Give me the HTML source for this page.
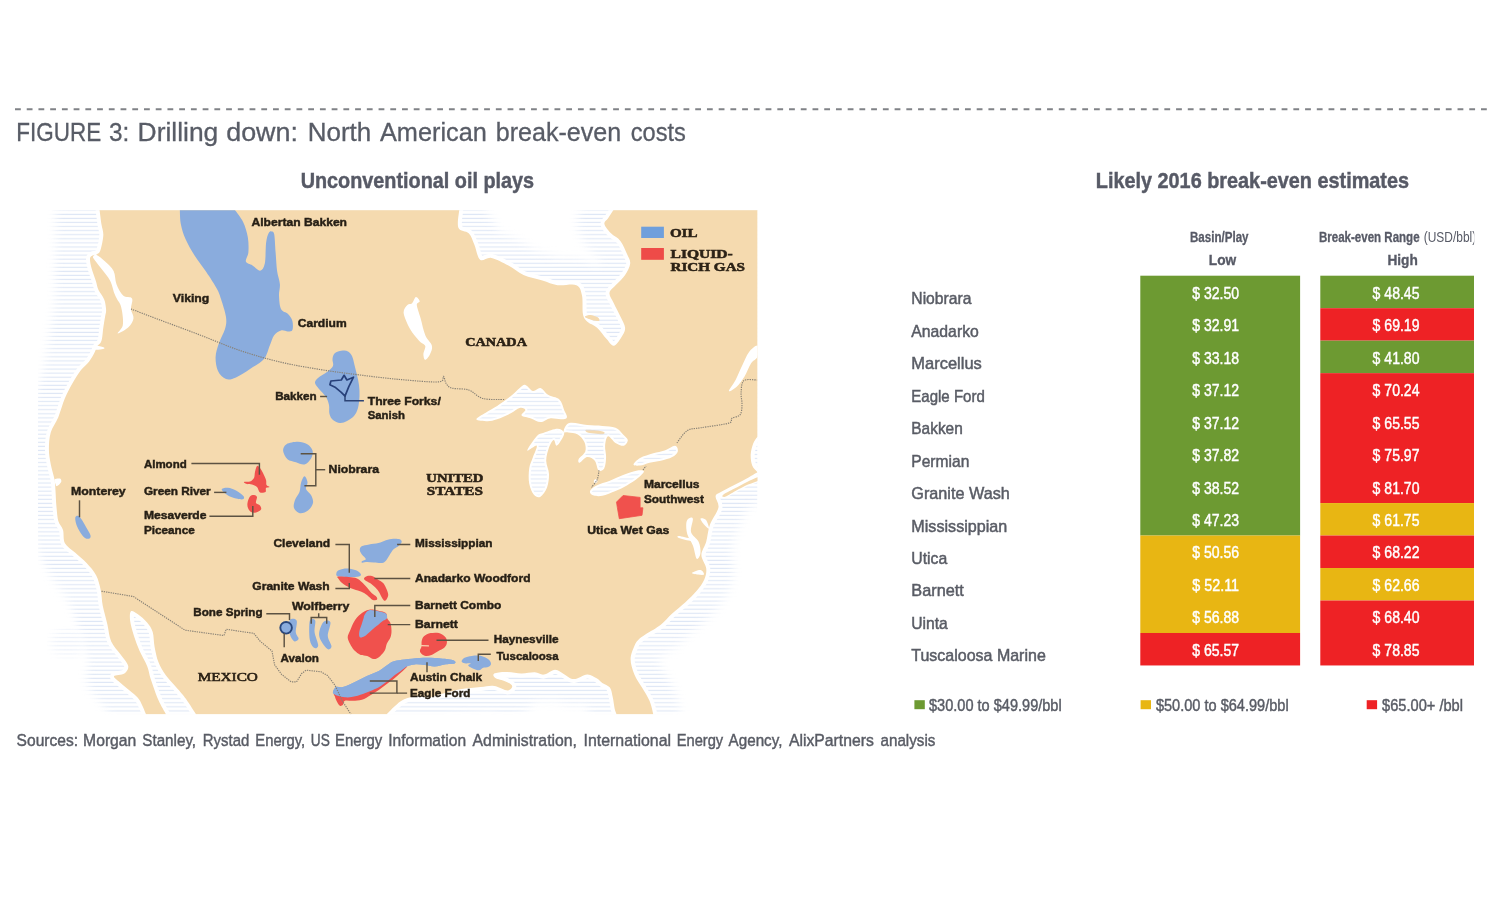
<!DOCTYPE html>
<html lang="en"><head><meta charset="utf-8"><title>FIGURE 3: Drilling down: North American break-even costs</title>
<style>html,body{margin:0;padding:0;background:#fff}body{width:1504px;height:900px;overflow:hidden}svg{display:block}text{font-family:"Liberation Sans",sans-serif}.lb{font-weight:bold;font-size:11.4px;fill:#261f15;stroke:#261f15;stroke-width:.45}.ct{font-family:"Liberation Serif",serif;font-weight:bold;fill:#2c2216;stroke:#2c2216;stroke-width:.55}.ld{fill:none;stroke:#5c5242;stroke-width:1.45}.bd{fill:none;stroke:#888175;stroke-width:1.15;stroke-dasharray:1.3 1.0}.rl{font-size:17px;fill:#595c65;stroke:#595c65;stroke-width:.5}.v{font-size:17.4px;fill:#fff;stroke:#fff;stroke-width:.45}.tt{font-weight:bold;fill:#575a66;stroke:#575a66;stroke-width:.45}</style></head><body>
<svg width="1504" height="900" viewBox="0 0 1504 900">
<defs>
<pattern id="hatch" width="8" height="4.07" patternUnits="userSpaceOnUse" patternTransform="translate(0,0.8)"><rect x="0" y="1.4" width="8" height="1.1" fill="#ccd9f0"/></pattern>
<filter id="bl" x="-10%" y="-10%" width="120%" height="120%"><feGaussianBlur stdDeviation="4"/></filter>
<filter id="soft" x="-5%" y="-5%" width="110%" height="110%"><feGaussianBlur stdDeviation="0.5"/></filter>
<clipPath id="mapclip"><rect x="38.0" y="210.3" width="719.5" height="503.90000000000003"/></clipPath>
<mask id="coastmask" maskUnits="userSpaceOnUse" x="0" y="180" width="800" height="560"><rect x="0" y="180" width="800" height="560" fill="#000"/><path d="M99.5,209.5 L459.3,209.5 C459.1,212.5 456.8,223.7 458.4,227.7 C460.0,231.7 466.0,230.5 468.7,233.3 C471.4,236.1 472.5,240.3 474.4,244.7 C476.3,249.1 477.3,257.6 480.1,259.8 C482.9,262.0 486.7,257.0 491.4,257.9 C496.1,258.8 503.0,262.6 508.4,265.4 C513.8,268.2 517.8,272.4 523.5,274.9 C529.2,277.4 536.7,278.8 542.4,280.5 C548.1,282.2 551.8,284.4 557.5,285.2 C563.2,286.0 572.3,283.5 576.4,285.2 C580.5,286.9 580.9,290.7 582.0,295.6 C583.1,300.5 582.0,310.1 583.0,314.5 C584.0,318.9 585.4,319.8 587.7,322.0 C590.1,324.2 594.0,324.9 597.1,327.7 C600.2,330.5 603.8,336.0 606.6,339.0 C609.4,342.0 611.3,346.0 613.8,345.7 C616.3,345.4 619.5,340.2 621.4,337.2 C623.3,334.2 625.3,331.2 625.1,327.7 C624.9,324.2 622.3,320.5 620.4,316.4 C618.5,312.3 615.6,307.1 613.8,303.2 C612.0,299.3 609.0,295.9 609.5,292.8 C610.0,289.7 614.0,287.3 616.6,284.3 C619.2,281.3 622.8,278.4 625.1,274.9 C627.4,271.4 629.9,267.0 630.2,263.5 C630.5,260.0 628.6,257.9 627.0,254.1 C625.4,250.3 623.1,244.4 620.4,240.9 C617.7,237.4 613.7,236.1 611.0,233.3 C608.3,230.5 604.9,226.4 604.4,223.9 C603.9,221.4 606.5,220.6 608.1,218.2 C609.7,215.8 612.8,210.9 613.8,209.5 L757.5,209.5 L757.5,436.7 C756.8,437.8 754.4,440.4 753.3,443.3 C752.2,446.2 750.9,450.7 750.7,454.4 C750.5,458.1 751.1,462.6 752.2,465.6 C753.3,468.6 756.6,471.1 757.5,472.2 C755.7,473.2 750.7,476.3 746.7,478.5 C742.7,480.7 737.8,483.3 733.3,485.6 C728.8,487.9 723.0,490.7 720.0,492.5 C717.0,494.3 715.9,493.9 715.6,496.5 C715.3,499.1 719.4,503.1 718.4,507.8 C717.4,512.5 711.9,519.1 709.9,524.8 C707.9,530.5 707.6,536.8 706.2,541.8 C704.8,546.8 701.4,550.6 701.4,555.0 C701.4,559.4 705.7,564.1 706.2,568.2 C706.7,572.3 705.9,575.7 704.3,579.5 C702.7,583.3 699.9,587.0 696.7,590.8 C693.6,594.6 689.5,598.4 685.4,602.2 C681.3,606.0 676.3,609.7 672.2,613.5 C668.1,617.3 665.2,621.3 660.8,624.8 C656.4,628.3 649.5,631.8 645.7,634.3 C641.9,636.8 640.1,638.0 638.2,640.0 C636.3,642.0 635.7,642.9 634.4,646.1 C633.1,649.3 630.6,654.6 630.6,659.3 C630.6,664.0 632.5,669.7 634.4,674.4 C636.3,679.1 639.5,683.2 642.0,687.6 C644.5,692.0 647.6,696.4 649.5,700.8 C651.4,705.2 652.7,712.0 653.3,714.2 L616.5,714.2 C616.2,713.2 615.2,711.2 614.6,708.4 C614.0,705.5 613.5,700.6 612.7,697.1 C611.9,693.6 611.6,690.0 609.9,687.6 C608.2,685.2 604.5,684.5 602.3,682.9 C600.1,681.3 599.1,679.6 596.6,678.2 C594.1,676.8 591.0,674.2 587.2,674.4 C583.4,674.5 577.8,679.1 574.0,679.1 C570.2,679.1 567.6,676.0 564.5,674.4 C561.4,672.8 558.5,669.7 555.1,669.7 C551.7,669.7 547.3,674.2 543.9,674.6 C540.5,675.0 538.6,672.5 534.8,672.3 C531.0,672.1 526.2,673.6 521.3,673.5 C516.4,673.4 510.0,671.9 505.5,671.9 C501.0,671.9 495.9,672.5 494.2,673.5 C492.5,674.5 493.4,676.7 495.3,678.0 C497.2,679.3 502.7,680.1 505.5,681.4 C508.3,682.7 511.8,684.4 512.2,685.9 C512.6,687.4 510.7,690.4 507.7,690.4 C504.7,690.4 498.7,686.5 494.2,685.9 C489.7,685.3 486.3,686.4 480.6,687.0 C474.9,687.6 466.6,688.2 460.2,689.3 C453.8,690.4 447.5,692.5 442.2,693.8 C436.9,695.1 432.8,696.8 428.6,697.2 C424.5,697.6 421.5,695.7 417.3,696.1 C413.1,696.5 407.5,697.8 403.7,699.5 C399.9,701.2 397.5,703.8 394.7,706.3 C391.9,708.8 388.1,712.9 386.8,714.2 L196.0,714.2 C194.4,711.8 189.5,704.0 186.7,700.0 C183.9,696.0 182.6,694.6 179.2,690.5 C175.8,686.4 169.5,680.1 166.0,675.4 C162.5,670.6 160.3,666.7 158.4,662.0 C156.5,657.3 155.6,652.0 154.6,647.0 C153.6,642.0 153.9,636.1 152.7,632.0 C151.4,627.9 149.6,625.5 147.1,622.5 C144.6,619.5 140.3,615.9 137.6,614.0 C134.9,612.1 132.2,610.1 131.0,611.2 C129.8,612.3 129.6,616.5 130.1,620.6 C130.6,624.7 132.3,630.7 133.9,635.7 C135.5,640.7 137.3,645.8 139.5,650.8 C141.7,655.8 145.2,661.3 147.1,666.0 C149.0,670.7 148.9,673.5 150.8,679.2 C152.7,684.9 155.9,694.2 158.4,700.0 C160.9,705.8 164.7,711.8 166.0,714.2 L146.0,714.2 C144.9,711.8 141.8,703.6 139.5,700.0 C137.2,696.4 135.2,695.2 132.0,692.4 C128.8,689.6 123.6,685.7 120.6,683.0 C117.6,680.3 113.4,677.9 114.0,676.3 C114.6,674.7 122.0,675.2 124.4,673.5 C126.8,671.8 128.8,669.1 128.2,666.0 C127.6,662.9 123.4,658.7 120.6,654.6 C117.8,650.5 113.4,646.4 111.2,641.4 C109.0,636.4 108.8,630.4 107.4,624.4 C106.0,618.4 103.8,611.2 102.7,605.5 C101.6,599.8 101.9,595.4 100.8,590.4 C99.7,585.4 98.5,579.9 96.1,575.3 C93.7,570.7 90.1,566.8 86.6,563.0 C83.1,559.2 78.9,556.0 75.3,552.7 C71.7,549.4 67.0,547.0 64.9,543.2 C62.9,539.4 64.1,533.7 63.0,530.0 C61.9,526.3 59.4,525.0 58.3,521.0 C57.2,517.0 56.9,511.0 56.4,506.0 C55.9,501.0 55.8,495.2 55.5,490.8 C55.2,486.4 55.3,483.9 54.5,479.5 C53.7,475.1 51.7,469.4 50.8,464.4 C49.9,459.4 48.9,454.6 48.9,449.3 C48.9,444.0 49.2,437.7 50.8,432.3 C52.4,426.9 55.9,422.9 58.3,417.2 C60.6,411.5 62.5,404.0 64.9,398.3 C67.3,392.6 69.8,387.9 72.5,383.2 C75.2,378.5 78.2,373.6 81.0,370.0 C83.8,366.4 86.7,364.7 89.0,361.7 C91.3,358.7 93.5,354.5 94.8,352.0 C96.1,349.5 95.9,348.3 97.0,346.5 C98.1,344.7 100.4,344.1 101.4,341.0 C102.5,337.9 102.7,331.8 103.3,327.7 C103.9,323.6 104.6,319.4 105.1,316.4 C105.6,313.4 106.2,312.6 106.1,309.8 C105.9,307.0 105.5,302.7 104.2,299.4 C102.9,296.1 99.9,293.1 98.5,290.0 C97.1,286.9 96.9,284.2 95.7,280.5 C94.5,276.8 92.5,271.7 91.5,268.0 C90.5,264.3 89.8,260.6 90.0,258.5 C90.2,256.4 91.4,256.2 92.5,255.5 C93.6,254.8 95.3,255.4 96.6,254.5 C97.9,253.6 99.3,253.5 100.4,250.3 C101.5,247.1 103.1,239.6 103.3,235.2 C103.5,230.8 102.0,228.2 101.4,223.9 C100.8,219.6 99.8,211.9 99.5,209.5Z" fill="none" stroke="#a8a8a8" stroke-width="54" stroke-linejoin="round" filter="url(#bl)"/><ellipse cx="68" cy="643" rx="17" ry="14" fill="#777" filter="url(#bl)"/><path d="M56,205 L55,300 L49,340 L42,380 L38,430 L39,480 L42,540 L50,575 L68,600 L89,640 L95,680 L112,720 L150,720 L150,205Z" fill="#a8a8a8" filter="url(#bl)"/></mask>
</defs>
<rect width="1504" height="900" fill="#fff"/>
<line x1="15" y1="109.2" x2="1487" y2="109.2" stroke="#808287" stroke-width="1.9" stroke-dasharray="5.8 5.928"/>
<text y="141.2" font-size="25px" fill="#585c66" stroke="#585c66" stroke-width=".3"><tspan x="16.3" textLength="84.9" lengthAdjust="spacingAndGlyphs">FIGURE</tspan> <tspan x="108.9" textLength="20.3" lengthAdjust="spacingAndGlyphs">3:</tspan> <tspan x="137.6" textLength="80.7" lengthAdjust="spacingAndGlyphs">Drilling</tspan> <tspan x="226.2" textLength="71.8" lengthAdjust="spacingAndGlyphs">down:</tspan> <tspan x="307.7" textLength="63.5" lengthAdjust="spacingAndGlyphs">North</tspan> <tspan x="380" textLength="106.8" lengthAdjust="spacingAndGlyphs">American</tspan> <tspan x="495.8" textLength="125.4" lengthAdjust="spacingAndGlyphs">break-even</tspan> <tspan x="630.8" textLength="55.1" lengthAdjust="spacingAndGlyphs">costs</tspan> </text>
<text x="300.7" y="187.8" font-size="22px" class="tt" textLength="233.4" lengthAdjust="spacingAndGlyphs">Unconventional oil plays</text>
<text x="1095.8" y="187.8" font-size="22px" class="tt" textLength="313.2" lengthAdjust="spacingAndGlyphs">Likely 2016 break-even estimates</text>
<g clip-path="url(#mapclip)">
<rect x="38.0" y="210.3" width="719.5" height="503.90000000000003" fill="url(#hatch)" mask="url(#coastmask)"/>
<path d="M99.5,209.5 L459.3,209.5 C459.1,212.5 456.8,223.7 458.4,227.7 C460.0,231.7 466.0,230.5 468.7,233.3 C471.4,236.1 472.5,240.3 474.4,244.7 C476.3,249.1 477.3,257.6 480.1,259.8 C482.9,262.0 486.7,257.0 491.4,257.9 C496.1,258.8 503.0,262.6 508.4,265.4 C513.8,268.2 517.8,272.4 523.5,274.9 C529.2,277.4 536.7,278.8 542.4,280.5 C548.1,282.2 551.8,284.4 557.5,285.2 C563.2,286.0 572.3,283.5 576.4,285.2 C580.5,286.9 580.9,290.7 582.0,295.6 C583.1,300.5 582.0,310.1 583.0,314.5 C584.0,318.9 585.4,319.8 587.7,322.0 C590.1,324.2 594.0,324.9 597.1,327.7 C600.2,330.5 603.8,336.0 606.6,339.0 C609.4,342.0 611.3,346.0 613.8,345.7 C616.3,345.4 619.5,340.2 621.4,337.2 C623.3,334.2 625.3,331.2 625.1,327.7 C624.9,324.2 622.3,320.5 620.4,316.4 C618.5,312.3 615.6,307.1 613.8,303.2 C612.0,299.3 609.0,295.9 609.5,292.8 C610.0,289.7 614.0,287.3 616.6,284.3 C619.2,281.3 622.8,278.4 625.1,274.9 C627.4,271.4 629.9,267.0 630.2,263.5 C630.5,260.0 628.6,257.9 627.0,254.1 C625.4,250.3 623.1,244.4 620.4,240.9 C617.7,237.4 613.7,236.1 611.0,233.3 C608.3,230.5 604.9,226.4 604.4,223.9 C603.9,221.4 606.5,220.6 608.1,218.2 C609.7,215.8 612.8,210.9 613.8,209.5 L757.5,209.5 L757.5,436.7 C756.8,437.8 754.4,440.4 753.3,443.3 C752.2,446.2 750.9,450.7 750.7,454.4 C750.5,458.1 751.1,462.6 752.2,465.6 C753.3,468.6 756.6,471.1 757.5,472.2 C755.7,473.2 750.7,476.3 746.7,478.5 C742.7,480.7 737.8,483.3 733.3,485.6 C728.8,487.9 723.0,490.7 720.0,492.5 C717.0,494.3 715.9,493.9 715.6,496.5 C715.3,499.1 719.4,503.1 718.4,507.8 C717.4,512.5 711.9,519.1 709.9,524.8 C707.9,530.5 707.6,536.8 706.2,541.8 C704.8,546.8 701.4,550.6 701.4,555.0 C701.4,559.4 705.7,564.1 706.2,568.2 C706.7,572.3 705.9,575.7 704.3,579.5 C702.7,583.3 699.9,587.0 696.7,590.8 C693.6,594.6 689.5,598.4 685.4,602.2 C681.3,606.0 676.3,609.7 672.2,613.5 C668.1,617.3 665.2,621.3 660.8,624.8 C656.4,628.3 649.5,631.8 645.7,634.3 C641.9,636.8 640.1,638.0 638.2,640.0 C636.3,642.0 635.7,642.9 634.4,646.1 C633.1,649.3 630.6,654.6 630.6,659.3 C630.6,664.0 632.5,669.7 634.4,674.4 C636.3,679.1 639.5,683.2 642.0,687.6 C644.5,692.0 647.6,696.4 649.5,700.8 C651.4,705.2 652.7,712.0 653.3,714.2 L616.5,714.2 C616.2,713.2 615.2,711.2 614.6,708.4 C614.0,705.5 613.5,700.6 612.7,697.1 C611.9,693.6 611.6,690.0 609.9,687.6 C608.2,685.2 604.5,684.5 602.3,682.9 C600.1,681.3 599.1,679.6 596.6,678.2 C594.1,676.8 591.0,674.2 587.2,674.4 C583.4,674.5 577.8,679.1 574.0,679.1 C570.2,679.1 567.6,676.0 564.5,674.4 C561.4,672.8 558.5,669.7 555.1,669.7 C551.7,669.7 547.3,674.2 543.9,674.6 C540.5,675.0 538.6,672.5 534.8,672.3 C531.0,672.1 526.2,673.6 521.3,673.5 C516.4,673.4 510.0,671.9 505.5,671.9 C501.0,671.9 495.9,672.5 494.2,673.5 C492.5,674.5 493.4,676.7 495.3,678.0 C497.2,679.3 502.7,680.1 505.5,681.4 C508.3,682.7 511.8,684.4 512.2,685.9 C512.6,687.4 510.7,690.4 507.7,690.4 C504.7,690.4 498.7,686.5 494.2,685.9 C489.7,685.3 486.3,686.4 480.6,687.0 C474.9,687.6 466.6,688.2 460.2,689.3 C453.8,690.4 447.5,692.5 442.2,693.8 C436.9,695.1 432.8,696.8 428.6,697.2 C424.5,697.6 421.5,695.7 417.3,696.1 C413.1,696.5 407.5,697.8 403.7,699.5 C399.9,701.2 397.5,703.8 394.7,706.3 C391.9,708.8 388.1,712.9 386.8,714.2 L196.0,714.2 C194.4,711.8 189.5,704.0 186.7,700.0 C183.9,696.0 182.6,694.6 179.2,690.5 C175.8,686.4 169.5,680.1 166.0,675.4 C162.5,670.6 160.3,666.7 158.4,662.0 C156.5,657.3 155.6,652.0 154.6,647.0 C153.6,642.0 153.9,636.1 152.7,632.0 C151.4,627.9 149.6,625.5 147.1,622.5 C144.6,619.5 140.3,615.9 137.6,614.0 C134.9,612.1 132.2,610.1 131.0,611.2 C129.8,612.3 129.6,616.5 130.1,620.6 C130.6,624.7 132.3,630.7 133.9,635.7 C135.5,640.7 137.3,645.8 139.5,650.8 C141.7,655.8 145.2,661.3 147.1,666.0 C149.0,670.7 148.9,673.5 150.8,679.2 C152.7,684.9 155.9,694.2 158.4,700.0 C160.9,705.8 164.7,711.8 166.0,714.2 L146.0,714.2 C144.9,711.8 141.8,703.6 139.5,700.0 C137.2,696.4 135.2,695.2 132.0,692.4 C128.8,689.6 123.6,685.7 120.6,683.0 C117.6,680.3 113.4,677.9 114.0,676.3 C114.6,674.7 122.0,675.2 124.4,673.5 C126.8,671.8 128.8,669.1 128.2,666.0 C127.6,662.9 123.4,658.7 120.6,654.6 C117.8,650.5 113.4,646.4 111.2,641.4 C109.0,636.4 108.8,630.4 107.4,624.4 C106.0,618.4 103.8,611.2 102.7,605.5 C101.6,599.8 101.9,595.4 100.8,590.4 C99.7,585.4 98.5,579.9 96.1,575.3 C93.7,570.7 90.1,566.8 86.6,563.0 C83.1,559.2 78.9,556.0 75.3,552.7 C71.7,549.4 67.0,547.0 64.9,543.2 C62.9,539.4 64.1,533.7 63.0,530.0 C61.9,526.3 59.4,525.0 58.3,521.0 C57.2,517.0 56.9,511.0 56.4,506.0 C55.9,501.0 55.8,495.2 55.5,490.8 C55.2,486.4 55.3,483.9 54.5,479.5 C53.7,475.1 51.7,469.4 50.8,464.4 C49.9,459.4 48.9,454.6 48.9,449.3 C48.9,444.0 49.2,437.7 50.8,432.3 C52.4,426.9 55.9,422.9 58.3,417.2 C60.6,411.5 62.5,404.0 64.9,398.3 C67.3,392.6 69.8,387.9 72.5,383.2 C75.2,378.5 78.2,373.6 81.0,370.0 C83.8,366.4 86.7,364.7 89.0,361.7 C91.3,358.7 93.5,354.5 94.8,352.0 C96.1,349.5 95.9,348.3 97.0,346.5 C98.1,344.7 100.4,344.1 101.4,341.0 C102.5,337.9 102.7,331.8 103.3,327.7 C103.9,323.6 104.6,319.4 105.1,316.4 C105.6,313.4 106.2,312.6 106.1,309.8 C105.9,307.0 105.5,302.7 104.2,299.4 C102.9,296.1 99.9,293.1 98.5,290.0 C97.1,286.9 96.9,284.2 95.7,280.5 C94.5,276.8 92.5,271.7 91.5,268.0 C90.5,264.3 89.8,260.6 90.0,258.5 C90.2,256.4 91.4,256.2 92.5,255.5 C93.6,254.8 95.3,255.4 96.6,254.5 C97.9,253.6 99.3,253.5 100.4,250.3 C101.5,247.1 103.1,239.6 103.3,235.2 C103.5,230.8 102.0,228.2 101.4,223.9 C100.8,219.6 99.8,211.9 99.5,209.5Z" fill="#f5daaf" stroke="#fff" stroke-width="8" stroke-linejoin="round"/>
<path d="M99.5,209.5 L459.3,209.5 C459.1,212.5 456.8,223.7 458.4,227.7 C460.0,231.7 466.0,230.5 468.7,233.3 C471.4,236.1 472.5,240.3 474.4,244.7 C476.3,249.1 477.3,257.6 480.1,259.8 C482.9,262.0 486.7,257.0 491.4,257.9 C496.1,258.8 503.0,262.6 508.4,265.4 C513.8,268.2 517.8,272.4 523.5,274.9 C529.2,277.4 536.7,278.8 542.4,280.5 C548.1,282.2 551.8,284.4 557.5,285.2 C563.2,286.0 572.3,283.5 576.4,285.2 C580.5,286.9 580.9,290.7 582.0,295.6 C583.1,300.5 582.0,310.1 583.0,314.5 C584.0,318.9 585.4,319.8 587.7,322.0 C590.1,324.2 594.0,324.9 597.1,327.7 C600.2,330.5 603.8,336.0 606.6,339.0 C609.4,342.0 611.3,346.0 613.8,345.7 C616.3,345.4 619.5,340.2 621.4,337.2 C623.3,334.2 625.3,331.2 625.1,327.7 C624.9,324.2 622.3,320.5 620.4,316.4 C618.5,312.3 615.6,307.1 613.8,303.2 C612.0,299.3 609.0,295.9 609.5,292.8 C610.0,289.7 614.0,287.3 616.6,284.3 C619.2,281.3 622.8,278.4 625.1,274.9 C627.4,271.4 629.9,267.0 630.2,263.5 C630.5,260.0 628.6,257.9 627.0,254.1 C625.4,250.3 623.1,244.4 620.4,240.9 C617.7,237.4 613.7,236.1 611.0,233.3 C608.3,230.5 604.9,226.4 604.4,223.9 C603.9,221.4 606.5,220.6 608.1,218.2 C609.7,215.8 612.8,210.9 613.8,209.5 L757.5,209.5 L757.5,436.7 C756.8,437.8 754.4,440.4 753.3,443.3 C752.2,446.2 750.9,450.7 750.7,454.4 C750.5,458.1 751.1,462.6 752.2,465.6 C753.3,468.6 756.6,471.1 757.5,472.2 C755.7,473.2 750.7,476.3 746.7,478.5 C742.7,480.7 737.8,483.3 733.3,485.6 C728.8,487.9 723.0,490.7 720.0,492.5 C717.0,494.3 715.9,493.9 715.6,496.5 C715.3,499.1 719.4,503.1 718.4,507.8 C717.4,512.5 711.9,519.1 709.9,524.8 C707.9,530.5 707.6,536.8 706.2,541.8 C704.8,546.8 701.4,550.6 701.4,555.0 C701.4,559.4 705.7,564.1 706.2,568.2 C706.7,572.3 705.9,575.7 704.3,579.5 C702.7,583.3 699.9,587.0 696.7,590.8 C693.6,594.6 689.5,598.4 685.4,602.2 C681.3,606.0 676.3,609.7 672.2,613.5 C668.1,617.3 665.2,621.3 660.8,624.8 C656.4,628.3 649.5,631.8 645.7,634.3 C641.9,636.8 640.1,638.0 638.2,640.0 C636.3,642.0 635.7,642.9 634.4,646.1 C633.1,649.3 630.6,654.6 630.6,659.3 C630.6,664.0 632.5,669.7 634.4,674.4 C636.3,679.1 639.5,683.2 642.0,687.6 C644.5,692.0 647.6,696.4 649.5,700.8 C651.4,705.2 652.7,712.0 653.3,714.2 L616.5,714.2 C616.2,713.2 615.2,711.2 614.6,708.4 C614.0,705.5 613.5,700.6 612.7,697.1 C611.9,693.6 611.6,690.0 609.9,687.6 C608.2,685.2 604.5,684.5 602.3,682.9 C600.1,681.3 599.1,679.6 596.6,678.2 C594.1,676.8 591.0,674.2 587.2,674.4 C583.4,674.5 577.8,679.1 574.0,679.1 C570.2,679.1 567.6,676.0 564.5,674.4 C561.4,672.8 558.5,669.7 555.1,669.7 C551.7,669.7 547.3,674.2 543.9,674.6 C540.5,675.0 538.6,672.5 534.8,672.3 C531.0,672.1 526.2,673.6 521.3,673.5 C516.4,673.4 510.0,671.9 505.5,671.9 C501.0,671.9 495.9,672.5 494.2,673.5 C492.5,674.5 493.4,676.7 495.3,678.0 C497.2,679.3 502.7,680.1 505.5,681.4 C508.3,682.7 511.8,684.4 512.2,685.9 C512.6,687.4 510.7,690.4 507.7,690.4 C504.7,690.4 498.7,686.5 494.2,685.9 C489.7,685.3 486.3,686.4 480.6,687.0 C474.9,687.6 466.6,688.2 460.2,689.3 C453.8,690.4 447.5,692.5 442.2,693.8 C436.9,695.1 432.8,696.8 428.6,697.2 C424.5,697.6 421.5,695.7 417.3,696.1 C413.1,696.5 407.5,697.8 403.7,699.5 C399.9,701.2 397.5,703.8 394.7,706.3 C391.9,708.8 388.1,712.9 386.8,714.2 L196.0,714.2 C194.4,711.8 189.5,704.0 186.7,700.0 C183.9,696.0 182.6,694.6 179.2,690.5 C175.8,686.4 169.5,680.1 166.0,675.4 C162.5,670.6 160.3,666.7 158.4,662.0 C156.5,657.3 155.6,652.0 154.6,647.0 C153.6,642.0 153.9,636.1 152.7,632.0 C151.4,627.9 149.6,625.5 147.1,622.5 C144.6,619.5 140.3,615.9 137.6,614.0 C134.9,612.1 132.2,610.1 131.0,611.2 C129.8,612.3 129.6,616.5 130.1,620.6 C130.6,624.7 132.3,630.7 133.9,635.7 C135.5,640.7 137.3,645.8 139.5,650.8 C141.7,655.8 145.2,661.3 147.1,666.0 C149.0,670.7 148.9,673.5 150.8,679.2 C152.7,684.9 155.9,694.2 158.4,700.0 C160.9,705.8 164.7,711.8 166.0,714.2 L146.0,714.2 C144.9,711.8 141.8,703.6 139.5,700.0 C137.2,696.4 135.2,695.2 132.0,692.4 C128.8,689.6 123.6,685.7 120.6,683.0 C117.6,680.3 113.4,677.9 114.0,676.3 C114.6,674.7 122.0,675.2 124.4,673.5 C126.8,671.8 128.8,669.1 128.2,666.0 C127.6,662.9 123.4,658.7 120.6,654.6 C117.8,650.5 113.4,646.4 111.2,641.4 C109.0,636.4 108.8,630.4 107.4,624.4 C106.0,618.4 103.8,611.2 102.7,605.5 C101.6,599.8 101.9,595.4 100.8,590.4 C99.7,585.4 98.5,579.9 96.1,575.3 C93.7,570.7 90.1,566.8 86.6,563.0 C83.1,559.2 78.9,556.0 75.3,552.7 C71.7,549.4 67.0,547.0 64.9,543.2 C62.9,539.4 64.1,533.7 63.0,530.0 C61.9,526.3 59.4,525.0 58.3,521.0 C57.2,517.0 56.9,511.0 56.4,506.0 C55.9,501.0 55.8,495.2 55.5,490.8 C55.2,486.4 55.3,483.9 54.5,479.5 C53.7,475.1 51.7,469.4 50.8,464.4 C49.9,459.4 48.9,454.6 48.9,449.3 C48.9,444.0 49.2,437.7 50.8,432.3 C52.4,426.9 55.9,422.9 58.3,417.2 C60.6,411.5 62.5,404.0 64.9,398.3 C67.3,392.6 69.8,387.9 72.5,383.2 C75.2,378.5 78.2,373.6 81.0,370.0 C83.8,366.4 86.7,364.7 89.0,361.7 C91.3,358.7 93.5,354.5 94.8,352.0 C96.1,349.5 95.9,348.3 97.0,346.5 C98.1,344.7 100.4,344.1 101.4,341.0 C102.5,337.9 102.7,331.8 103.3,327.7 C103.9,323.6 104.6,319.4 105.1,316.4 C105.6,313.4 106.2,312.6 106.1,309.8 C105.9,307.0 105.5,302.7 104.2,299.4 C102.9,296.1 99.9,293.1 98.5,290.0 C97.1,286.9 96.9,284.2 95.7,280.5 C94.5,276.8 92.5,271.7 91.5,268.0 C90.5,264.3 89.8,260.6 90.0,258.5 C90.2,256.4 91.4,256.2 92.5,255.5 C93.6,254.8 95.3,255.4 96.6,254.5 C97.9,253.6 99.3,253.5 100.4,250.3 C101.5,247.1 103.1,239.6 103.3,235.2 C103.5,230.8 102.0,228.2 101.4,223.9 C100.8,219.6 99.8,211.9 99.5,209.5Z" fill="#f5daaf"/>
<path d="M93.0,256.8 C93.3,255.9 94.6,254.2 96.6,255.0 C98.6,255.8 102.3,258.9 105.1,261.6 C107.9,264.3 111.7,267.3 113.6,271.1 C115.5,274.9 114.9,280.2 116.5,284.3 C118.1,288.4 120.5,293.2 123.1,295.6 C125.7,298.0 130.7,296.3 132.0,298.5 C133.3,300.7 130.8,305.7 131.0,309.0 C131.2,312.3 133.9,315.3 133.5,318.3 C133.1,321.3 131.3,324.5 128.7,327.0 C126.1,329.5 118.8,333.7 117.8,333.5 C116.8,333.3 121.9,329.0 122.7,325.8 C123.5,322.6 122.9,317.9 122.5,314.5 C122.1,311.1 121.4,307.7 120.5,305.1 C119.6,302.5 118.0,300.9 117.0,299.0 C116.0,297.1 115.7,296.8 114.5,293.7 C113.3,290.6 112.1,284.5 110.0,280.5 C107.9,276.5 104.5,272.9 102.0,269.5 C99.5,266.1 96.3,262.3 94.8,260.2 C93.3,258.1 92.7,257.7 93.0,256.8Z" fill="#fff"/>
<path d="M54.5,479.5 C55.2,478.6 58.9,478.2 60.0,478.6 C61.1,479.0 61.7,480.8 61.2,482.0 C60.7,483.2 58.0,485.8 57.0,486.1 C56.0,486.4 55.9,485.1 55.5,484.0 C55.1,482.9 53.8,480.4 54.5,479.5Z" fill="#fff"/>
<path d="M96.6,345.7 C98.1,345.4 102.9,346.9 104.0,347.5 C105.1,348.1 104.5,348.7 103.0,349.0 C101.5,349.3 96.1,350.1 95.0,349.5 C93.9,348.9 95.1,346.0 96.6,345.7Z" fill="#fff"/>
<path d="M415.9,297.0 C417.2,296.7 419.5,299.9 419.7,301.3 C419.9,302.7 416.6,302.3 416.8,305.1 C417.0,307.9 419.2,313.3 420.6,318.3 C422.0,323.3 423.4,330.7 425.3,335.3 C427.2,339.9 431.1,342.6 431.9,345.7 C432.7,348.8 431.1,351.8 430.0,354.2 C428.9,356.6 426.4,359.8 425.3,359.8 C424.2,359.8 423.4,356.5 423.4,354.2 C423.4,351.9 425.8,348.0 425.3,346.0 C424.8,344.0 422.5,344.1 420.6,342.2 C418.7,340.3 416.1,337.4 414.0,334.7 C411.9,332.0 410.0,329.5 408.3,325.8 C406.6,322.1 403.8,316.1 403.6,312.6 C403.5,309.2 406.0,306.7 407.4,305.1 C408.8,303.5 410.7,304.6 412.1,303.2 C413.5,301.8 414.6,297.3 415.9,297.0Z" fill="#fff"/>
<path d="M476.3,419.3 C476.0,417.9 482.2,414.9 485.7,412.7 C489.2,410.5 493.0,408.8 497.1,406.1 C501.2,403.4 506.5,399.6 510.3,396.6 C514.1,393.6 517.2,390.1 519.7,388.1 C522.2,386.2 523.2,384.4 525.4,384.9 C527.6,385.4 530.5,390.5 533.0,391.0 C535.5,391.5 538.0,387.5 540.5,388.1 C543.0,388.7 545.0,392.9 548.1,394.8 C551.2,396.7 556.7,397.0 559.4,399.5 C562.1,402.0 562.9,406.9 564.1,409.9 C565.4,412.9 567.4,415.8 566.9,417.4 C566.4,419.0 564.1,419.1 561.3,419.3 C558.5,419.5 553.4,417.9 549.9,418.4 C546.4,418.9 543.6,422.1 540.5,422.1 C537.4,422.1 534.1,419.5 531.0,418.4 C527.9,417.3 522.5,416.9 521.6,415.5 C520.7,414.1 525.7,411.1 525.4,409.9 C525.1,408.6 522.2,407.4 519.7,408.0 C517.2,408.6 514.1,411.7 510.3,413.6 C506.5,415.5 500.9,418.0 497.1,419.3 C493.3,420.6 491.1,421.2 487.6,421.2 C484.1,421.2 476.6,420.7 476.3,419.3Z" fill="#fff"/>
<path d="M527.3,450.5 C527.3,448.9 533.9,439.3 536.7,436.3 C539.5,433.3 540.8,433.8 544.3,432.5 C547.8,431.2 554.2,428.7 557.5,428.7 C560.8,428.7 563.5,430.6 564.1,432.5 C564.7,434.4 562.6,437.9 561.3,440.1 C560.0,442.3 557.8,445.7 556.5,445.7 C555.2,445.7 555.0,439.8 553.7,440.1 C552.5,440.4 550.2,444.2 549.0,447.6 C547.8,451.1 546.2,456.4 546.2,460.8 C546.2,465.2 548.9,469.7 549.0,474.1 C549.1,478.5 548.5,483.5 547.1,487.3 C545.7,491.1 542.7,495.4 540.5,496.7 C538.3,497.9 535.8,497.0 533.9,494.8 C532.0,492.6 530.0,487.9 529.2,483.5 C528.4,479.1 528.6,472.8 529.2,468.4 C529.8,464.0 531.8,460.9 533.0,457.1 C534.2,453.3 537.7,446.8 536.7,445.7 C535.8,444.6 527.3,452.1 527.3,450.5Z" fill="#fff"/>
<path d="M563.6,431.5 C563.8,429.9 565.4,424.2 569.3,423.1 C573.2,422.0 581.7,424.5 587.2,425.0 C592.7,425.5 597.6,425.4 602.3,425.9 C607.0,426.4 612.0,426.4 615.5,427.8 C619.0,429.2 621.1,432.3 623.1,434.4 C625.1,436.4 627.6,438.2 627.8,440.1 C627.9,442.0 626.0,445.2 624.0,445.7 C622.0,446.2 618.2,444.5 615.5,442.9 C612.8,441.3 609.7,435.8 608.0,436.3 C606.3,436.8 605.4,442.2 605.1,445.7 C604.8,449.2 606.2,453.3 606.1,457.1 C606.0,460.9 605.5,466.2 604.2,468.4 C602.9,470.6 600.1,471.6 598.5,470.3 C596.9,469.0 596.7,463.0 594.8,460.8 C592.9,458.6 589.7,456.8 587.2,457.1 C584.7,457.4 581.1,462.4 579.7,462.7 C578.3,463.0 577.8,460.9 578.7,459.0 C579.6,457.1 584.3,454.2 585.3,451.4 C586.2,448.6 585.6,444.8 584.4,442.0 C583.1,439.2 580.5,436.0 577.8,434.4 C575.1,432.8 570.7,433.0 568.3,432.5 C565.9,432.0 563.4,433.1 563.6,431.5Z" fill="#fff"/>
<path d="M633.5,464.6 C633.5,463.3 636.8,459.9 640.1,458.0 C643.4,456.1 649.2,454.6 653.3,453.3 C657.4,452.1 661.0,451.8 664.6,450.5 C668.2,449.2 672.8,445.6 675.0,445.7 C677.2,445.8 678.3,449.5 677.8,451.4 C677.3,453.3 675.0,455.5 672.2,457.1 C669.4,458.7 664.6,459.9 660.8,460.8 C657.0,461.7 653.0,461.9 649.5,462.7 C646.0,463.5 642.8,465.3 640.1,465.6 C637.4,465.9 633.5,465.9 633.5,464.6Z" fill="#fff"/>
<path d="M590.0,491.0 C590.6,489.4 593.3,487.1 596.6,485.4 C599.9,483.7 605.5,482.4 609.9,480.7 C614.3,479.0 618.7,476.7 623.1,475.0 C627.5,473.3 632.8,471.3 636.3,470.7 C639.8,470.1 643.6,470.0 643.9,471.2 C644.2,472.4 641.0,475.4 638.2,477.8 C635.4,480.2 630.7,483.2 626.9,485.4 C623.1,487.6 619.6,489.3 615.5,491.0 C611.4,492.7 606.1,495.1 602.3,495.8 C598.5,496.5 594.9,496.0 592.9,495.2 C590.9,494.4 589.4,492.6 590.0,491.0Z" fill="#fff"/>
<path d="M728.9,391.1 C728.7,390.0 733.4,384.2 735.6,380.0 C737.8,375.8 740.0,370.2 742.2,365.6 C744.4,361.0 746.4,355.5 748.9,352.2 C751.4,348.9 756.1,344.9 757.5,345.6 C758.9,346.4 758.6,353.8 757.5,356.7 C756.4,359.6 753.3,360.0 751.1,363.3 C748.9,366.6 746.8,372.8 744.4,376.7 C742.0,380.6 739.3,384.3 736.7,386.7 C734.1,389.1 729.1,392.2 728.9,391.1Z" fill="#fff"/>
<path d="M689.2,518.2 C690.3,517.6 692.6,516.8 692.9,519.1 C693.2,521.5 690.1,528.5 691.1,532.3 C692.1,536.1 697.0,538.3 698.6,541.8 C700.2,545.3 700.8,550.3 700.5,553.1 C700.2,555.9 698.0,560.0 696.7,558.7 C695.4,557.4 694.5,549.6 692.9,545.5 C691.3,541.4 688.4,538.0 687.3,534.2 C686.2,530.4 686.0,525.6 686.3,522.9 C686.6,520.2 688.1,518.8 689.2,518.2Z" fill="#fff"/>
<path d="M678.8,536.0 C680.8,536.1 689.0,538.1 691.1,538.9 C693.2,539.7 693.2,541.1 691.1,541.0 C689.0,540.9 680.8,538.8 678.8,538.0 C676.8,537.2 676.8,535.9 678.8,536.0Z" fill="#fff"/>
<path d="M700.5,518.7 C700.2,519.5 702.9,523.2 704.3,524.8 C705.7,526.4 708.7,529.3 709.0,528.5 C709.3,527.7 707.4,521.6 706.0,520.0 C704.6,518.4 700.8,517.9 700.5,518.7Z" fill="#fff"/>
<path d="M692.0,572.9 C692.4,572.1 698.5,569.7 700.5,570.0 C702.5,570.3 704.4,573.8 704.0,574.5 C703.6,575.2 700.0,574.8 698.0,574.5 C696.0,574.2 691.6,573.6 692.0,572.9Z" fill="#fff"/>
<path d="M594.2,480.0 C594.6,479.5 595.9,479.0 596.5,479.2 C597.1,479.4 597.7,480.4 597.6,481.0 C597.5,481.6 596.6,482.8 596.0,483.0 C595.4,483.2 594.3,482.8 594.0,482.3 C593.7,481.8 593.8,480.5 594.2,480.0Z" fill="#fff"/>
<path d="M584.9,317.0 C584.6,316.2 587.8,314.9 590.0,315.0 C592.2,315.1 596.5,316.5 598.0,317.5 C599.5,318.5 600.0,320.6 599.0,321.0 C598.0,321.4 594.4,320.7 592.0,320.0 C589.6,319.3 585.2,317.8 584.9,317.0Z" fill="#f5daaf"/>
<path d="M586.0,429.8 C587.5,429.5 593.0,429.8 596.0,430.2 C599.0,430.6 602.8,431.3 604.0,432.0 C605.2,432.7 604.7,434.0 603.0,434.2 C601.3,434.4 596.7,433.7 594.0,433.4 C591.3,433.1 588.3,432.8 587.0,432.2 C585.7,431.6 584.5,430.1 586.0,429.8Z" fill="#f5daaf"/>
<path d="M723.0,495.0 C724.6,493.6 730.5,490.8 734.5,488.6 C738.5,486.4 743.2,483.9 747.0,482.0 C750.8,480.1 755.3,478.1 757.5,477.3 C759.7,476.5 759.6,476.6 760.0,477.0 C760.4,477.4 762.0,478.7 760.0,480.0 C758.0,481.3 752.1,482.8 748.0,484.6 C743.9,486.4 739.3,489.0 735.5,491.0 C731.7,493.0 727.1,496.1 725.0,496.8 C722.9,497.5 721.4,496.4 723.0,495.0Z" fill="#f5daaf" stroke="#fff" stroke-width="2.4" paint-order="stroke"/>
<mask id="lakemask" maskUnits="userSpaceOnUse" x="460" y="370" width="240" height="140"><rect x="460" y="370" width="240" height="140" fill="#000"/>
<path d="M476.3,419.3 C476.0,417.9 482.2,414.9 485.7,412.7 C489.2,410.5 493.0,408.8 497.1,406.1 C501.2,403.4 506.5,399.6 510.3,396.6 C514.1,393.6 517.2,390.1 519.7,388.1 C522.2,386.2 523.2,384.4 525.4,384.9 C527.6,385.4 530.5,390.5 533.0,391.0 C535.5,391.5 538.0,387.5 540.5,388.1 C543.0,388.7 545.0,392.9 548.1,394.8 C551.2,396.7 556.7,397.0 559.4,399.5 C562.1,402.0 562.9,406.9 564.1,409.9 C565.4,412.9 567.4,415.8 566.9,417.4 C566.4,419.0 564.1,419.1 561.3,419.3 C558.5,419.5 553.4,417.9 549.9,418.4 C546.4,418.9 543.6,422.1 540.5,422.1 C537.4,422.1 534.1,419.5 531.0,418.4 C527.9,417.3 522.5,416.9 521.6,415.5 C520.7,414.1 525.7,411.1 525.4,409.9 C525.1,408.6 522.2,407.4 519.7,408.0 C517.2,408.6 514.1,411.7 510.3,413.6 C506.5,415.5 500.9,418.0 497.1,419.3 C493.3,420.6 491.1,421.2 487.6,421.2 C484.1,421.2 476.6,420.7 476.3,419.3Z" fill="#999" stroke="#000" stroke-width="4"/>
<path d="M527.3,450.5 C527.3,448.9 533.9,439.3 536.7,436.3 C539.5,433.3 540.8,433.8 544.3,432.5 C547.8,431.2 554.2,428.7 557.5,428.7 C560.8,428.7 563.5,430.6 564.1,432.5 C564.7,434.4 562.6,437.9 561.3,440.1 C560.0,442.3 557.8,445.7 556.5,445.7 C555.2,445.7 555.0,439.8 553.7,440.1 C552.5,440.4 550.2,444.2 549.0,447.6 C547.8,451.1 546.2,456.4 546.2,460.8 C546.2,465.2 548.9,469.7 549.0,474.1 C549.1,478.5 548.5,483.5 547.1,487.3 C545.7,491.1 542.7,495.4 540.5,496.7 C538.3,497.9 535.8,497.0 533.9,494.8 C532.0,492.6 530.0,487.9 529.2,483.5 C528.4,479.1 528.6,472.8 529.2,468.4 C529.8,464.0 531.8,460.9 533.0,457.1 C534.2,453.3 537.7,446.8 536.7,445.7 C535.8,444.6 527.3,452.1 527.3,450.5Z" fill="#999" stroke="#000" stroke-width="4"/>
<path d="M563.6,431.5 C563.8,429.9 565.4,424.2 569.3,423.1 C573.2,422.0 581.7,424.5 587.2,425.0 C592.7,425.5 597.6,425.4 602.3,425.9 C607.0,426.4 612.0,426.4 615.5,427.8 C619.0,429.2 621.1,432.3 623.1,434.4 C625.1,436.4 627.6,438.2 627.8,440.1 C627.9,442.0 626.0,445.2 624.0,445.7 C622.0,446.2 618.2,444.5 615.5,442.9 C612.8,441.3 609.7,435.8 608.0,436.3 C606.3,436.8 605.4,442.2 605.1,445.7 C604.8,449.2 606.2,453.3 606.1,457.1 C606.0,460.9 605.5,466.2 604.2,468.4 C602.9,470.6 600.1,471.6 598.5,470.3 C596.9,469.0 596.7,463.0 594.8,460.8 C592.9,458.6 589.7,456.8 587.2,457.1 C584.7,457.4 581.1,462.4 579.7,462.7 C578.3,463.0 577.8,460.9 578.7,459.0 C579.6,457.1 584.3,454.2 585.3,451.4 C586.2,448.6 585.6,444.8 584.4,442.0 C583.1,439.2 580.5,436.0 577.8,434.4 C575.1,432.8 570.7,433.0 568.3,432.5 C565.9,432.0 563.4,433.1 563.6,431.5Z" fill="#999" stroke="#000" stroke-width="4"/>
<path d="M590.0,491.0 C590.6,489.4 593.3,487.1 596.6,485.4 C599.9,483.7 605.5,482.4 609.9,480.7 C614.3,479.0 618.7,476.7 623.1,475.0 C627.5,473.3 632.8,471.3 636.3,470.7 C639.8,470.1 643.6,470.0 643.9,471.2 C644.2,472.4 641.0,475.4 638.2,477.8 C635.4,480.2 630.7,483.2 626.9,485.4 C623.1,487.6 619.6,489.3 615.5,491.0 C611.4,492.7 606.1,495.1 602.3,495.8 C598.5,496.5 594.9,496.0 592.9,495.2 C590.9,494.4 589.4,492.6 590.0,491.0Z" fill="#999" stroke="#000" stroke-width="4"/>
<path d="M633.5,464.6 C633.5,463.3 636.8,459.9 640.1,458.0 C643.4,456.1 649.2,454.6 653.3,453.3 C657.4,452.1 661.0,451.8 664.6,450.5 C668.2,449.2 672.8,445.6 675.0,445.7 C677.2,445.8 678.3,449.5 677.8,451.4 C677.3,453.3 675.0,455.5 672.2,457.1 C669.4,458.7 664.6,459.9 660.8,460.8 C657.0,461.7 653.0,461.9 649.5,462.7 C646.0,463.5 642.8,465.3 640.1,465.6 C637.4,465.9 633.5,465.9 633.5,464.6Z" fill="#999" stroke="#000" stroke-width="4"/>
</mask>
<rect x="460" y="370" width="240" height="140" fill="url(#hatch)" mask="url(#lakemask)"/>
<path d="M179.8,209.5 C180.0,211.9 179.9,219.0 180.8,223.9 C181.8,228.8 183.2,233.7 185.5,239.0 C187.8,244.3 191.4,250.5 194.9,256.0 C198.4,261.5 202.6,266.5 206.3,272.0 C210.0,277.5 214.6,284.5 217.0,289.0 C219.4,293.5 219.5,294.3 221.0,299.0 C222.5,303.7 225.3,312.0 226.0,317.0 C226.7,322.0 226.2,324.7 225.0,329.0 C223.8,333.3 220.6,338.3 219.0,343.0 C217.4,347.7 215.8,352.3 215.6,357.0 C215.4,361.7 216.3,367.3 218.0,371.0 C219.7,374.7 223.0,377.9 226.0,379.0 C229.0,380.1 232.0,379.1 236.0,377.4 C240.0,375.7 245.3,372.1 250.0,369.0 C254.7,365.9 260.7,363.0 264.0,359.0 C267.3,355.0 268.3,348.9 270.0,345.0 C271.7,341.1 272.2,337.9 274.0,335.5 C275.8,333.1 278.7,331.2 281.0,330.5 C283.3,329.8 286.1,331.5 288.0,331.4 C289.9,331.3 291.7,331.7 292.4,330.0 C293.1,328.3 293.1,323.7 292.4,321.0 C291.7,318.3 289.9,316.0 288.0,314.0 C286.1,312.0 282.5,312.1 281.0,309.0 C279.5,305.9 279.2,299.7 279.0,295.6 C278.8,291.5 280.2,288.4 279.9,284.3 C279.6,280.2 277.8,276.5 277.1,271.1 C276.4,265.8 276.1,258.3 275.6,252.2 C275.1,246.1 274.9,237.8 274.2,234.3 C273.5,230.8 272.3,231.6 271.4,231.4 C270.5,231.2 269.5,231.4 268.6,233.3 C267.7,235.2 266.7,237.8 266.1,242.8 C265.5,247.8 265.8,258.9 264.8,263.5 C263.8,268.1 262.2,270.4 260.1,270.7 C258.1,271.0 254.9,266.9 252.5,265.4 C250.1,263.9 246.6,263.8 245.9,261.6 C245.2,259.4 248.1,256.3 248.4,252.2 C248.7,248.1 248.7,242.1 247.8,237.1 C246.9,232.1 245.3,226.6 243.1,222.0 C240.9,217.4 236.0,211.6 234.6,209.5 L179.8,209.5Z" fill="#8aacdd"/>
<path d="M343.0,350.5 C340.8,350.8 336.8,351.6 335.0,353.0 C333.2,354.4 332.8,356.8 332.5,359.0 C332.2,361.2 333.9,363.8 333.0,366.0 C332.1,368.2 329.5,370.0 327.0,372.0 C324.5,374.0 320.0,376.2 318.0,378.0 C316.0,379.8 314.8,381.2 315.0,383.0 C315.2,384.8 317.2,386.7 319.0,389.0 C320.8,391.3 324.3,394.3 326.0,397.0 C327.7,399.7 328.4,402.2 329.0,405.0 C329.6,407.8 328.8,411.5 329.5,414.0 C330.2,416.5 331.2,418.5 333.0,420.0 C334.8,421.5 337.7,422.8 340.0,423.0 C342.3,423.2 344.7,422.2 347.0,421.0 C349.3,419.8 352.2,418.2 354.0,416.0 C355.8,413.8 357.1,411.3 358.0,408.0 C358.9,404.7 359.3,399.8 359.5,396.0 C359.7,392.2 359.4,388.5 359.0,385.0 C358.6,381.5 357.8,378.3 357.0,375.0 C356.2,371.7 355.3,368.2 354.5,365.0 C353.7,361.8 353.1,358.2 352.0,356.0 C350.9,353.8 349.5,352.4 348.0,351.5 C346.5,350.6 345.2,350.2 343.0,350.5Z" fill="#8aacdd"/>
<path d="M283.1,450.8 C282.9,448.3 284.1,445.7 286.5,444.2 C288.9,442.7 294.3,441.8 297.8,441.8 C301.3,441.8 304.8,442.7 307.3,444.2 C309.8,445.7 312.0,448.4 312.6,450.8 C313.2,453.2 312.5,456.1 311.1,458.4 C309.7,460.7 306.9,463.8 304.4,464.4 C301.9,465.0 298.8,463.0 296.0,462.2 C293.2,461.4 289.6,461.2 287.5,459.3 C285.4,457.4 283.3,453.3 283.1,450.8Z" fill="#8aacdd"/>
<path d="M304.4,476.3 C305.5,476.1 307.2,479.9 307.5,482.0 C307.8,484.1 305.4,486.8 306.0,489.0 C306.6,491.2 309.8,492.7 311.0,495.0 C312.2,497.3 313.5,500.4 313.0,503.0 C312.5,505.6 310.2,508.8 308.0,510.5 C305.8,512.2 302.3,513.6 300.0,513.2 C297.7,512.8 294.8,510.2 294.0,508.0 C293.2,505.8 294.1,502.7 295.0,500.0 C295.9,497.3 298.5,494.8 299.5,492.0 C300.5,489.2 300.2,485.6 301.0,483.0 C301.8,480.4 303.3,476.5 304.4,476.3Z" fill="#8aacdd"/>
<path d="M221.7,489.5 C221.7,488.2 225.6,487.6 228.0,487.8 C230.4,488.0 233.4,489.1 236.0,490.5 C238.6,491.9 242.2,494.5 243.4,496.0 C244.6,497.5 244.2,498.9 243.0,499.3 C241.8,499.7 238.5,499.1 236.0,498.5 C233.5,497.9 230.4,497.0 228.0,495.5 C225.6,494.0 221.7,490.8 221.7,489.5Z" fill="#8aacdd"/>
<path d="M75.3,517.5 C75.6,516.0 77.4,515.6 78.5,516.0 C79.6,516.4 80.8,518.2 82.0,520.0 C83.2,521.8 84.6,524.5 86.0,527.0 C87.4,529.5 89.8,533.1 90.4,535.0 C91.0,536.9 90.4,538.0 89.5,538.5 C88.6,539.0 86.6,539.1 85.0,538.0 C83.4,536.9 81.4,534.2 80.0,532.0 C78.6,529.8 77.3,527.4 76.5,525.0 C75.7,522.6 75.0,519.0 75.3,517.5Z" fill="#8aacdd"/>
<path d="M359.8,550.0 C359.8,548.7 360.1,547.2 361.7,546.3 C363.2,545.4 366.3,544.9 369.1,544.4 C371.9,543.9 375.6,543.7 378.4,543.0 C381.2,542.3 383.4,540.9 385.9,540.2 C388.4,539.5 391.0,538.9 393.3,538.8 C395.6,538.6 398.4,538.8 399.8,539.3 C401.2,539.8 401.9,541.0 401.7,542.1 C401.5,543.2 400.3,544.5 398.9,545.8 C397.5,547.0 394.9,548.0 393.3,549.6 C391.8,551.2 390.8,553.2 389.6,555.1 C388.4,557.0 387.1,559.4 385.9,560.7 C384.6,562.0 384.1,562.7 382.1,563.0 C380.1,563.3 376.3,562.8 373.8,562.6 C371.3,562.5 369.1,562.1 367.2,562.1 C365.2,562.1 363.0,563.0 362.1,562.8 C361.2,562.6 361.5,561.6 362.1,561.0 C362.7,560.4 365.9,560.0 365.8,558.9 C365.7,557.8 362.7,555.7 361.7,554.2 C360.7,552.7 359.8,551.3 359.8,550.0Z" fill="#8aacdd"/>
<path d="M336.5,572.8 C336.6,571.7 337.6,570.7 339.3,570.0 C341.0,569.3 344.2,568.6 346.8,568.6 C349.4,568.6 352.9,569.3 355.1,570.0 C357.3,570.7 358.9,571.9 359.8,572.8 C360.7,573.7 361.5,574.9 360.7,575.6 C359.9,576.3 358.8,576.8 355.1,577.0 C351.4,577.2 341.5,577.3 338.4,576.6 C335.3,575.9 336.4,573.9 336.5,572.8Z" fill="#8aacdd"/>
<path d="M289.5,620.4 C290.6,618.1 295.6,618.4 296.6,620.4 C297.7,622.4 295.5,629.1 295.8,632.2 C296.1,635.3 298.9,637.3 298.6,638.8 C298.3,640.3 295.7,642.0 294.2,641.2 C292.7,640.4 290.6,637.6 289.8,634.1 C289.0,630.6 288.4,622.7 289.5,620.4Z" fill="#8aacdd"/>
<path d="M309.8,620.8 C310.7,617.6 314.4,618.6 315.2,620.5 C316.0,622.4 314.1,628.1 314.6,632.2 C315.1,636.4 318.3,642.8 318.2,645.4 C318.1,648.0 315.4,648.8 314.0,647.8 C312.6,646.8 310.5,644.2 309.8,639.7 C309.1,635.2 308.9,624.0 309.8,620.8Z" fill="#8aacdd"/>
<path d="M323.2,622.2 C325.1,619.9 329.6,619.9 330.4,622.2 C331.2,624.5 327.6,631.9 327.8,635.9 C328.0,639.9 331.6,644.1 331.5,646.3 C331.4,648.4 329.2,650.5 327.2,648.8 C325.1,647.1 319.9,640.3 319.2,635.9 C318.5,631.5 321.3,624.5 323.2,622.2Z" fill="#8aacdd"/>
<path d="M333.0,691.9 C333.3,690.7 334.4,687.7 336.0,686.9 C337.6,686.1 339.8,687.7 342.9,686.9 C346.0,686.1 350.9,683.7 354.9,681.9 C358.9,680.1 362.9,677.7 366.9,675.9 C370.9,674.1 375.1,672.9 378.8,670.9 C382.5,668.9 386.1,665.5 388.8,663.9 C391.5,662.2 392.1,661.7 394.8,661.0 C397.5,660.3 400.7,660.0 404.8,659.5 C408.9,659.0 414.7,658.2 419.7,658.0 C424.7,657.8 429.7,657.8 434.7,658.0 C439.7,658.2 446.3,659.0 449.6,659.5 C452.9,660.0 453.8,660.4 454.6,661.0 C455.4,661.6 456.3,662.8 454.6,663.4 C452.9,664.0 447.9,663.9 444.6,664.4 C441.3,664.9 438.0,666.3 434.7,666.4 C431.4,666.5 428.0,665.2 424.7,664.9 C421.4,664.6 417.7,664.1 414.7,664.4 C411.7,664.6 409.1,665.3 406.8,666.4 C404.5,667.5 402.8,669.5 400.8,670.9 C398.8,672.3 396.8,673.4 394.8,674.9 C392.8,676.4 391.1,678.1 388.8,679.9 C386.5,681.7 383.5,684.2 380.8,685.9 C378.1,687.6 375.9,688.6 372.9,689.9 C369.9,691.2 366.2,692.8 362.9,693.9 C359.6,695.0 355.9,696.2 352.9,696.8 C349.9,697.4 347.4,697.5 344.9,697.3 C342.4,697.1 339.8,696.4 338.0,695.8 C336.2,695.2 334.8,694.5 334.0,693.9 C333.2,693.2 332.7,693.1 333.0,691.9Z" fill="#8aacdd"/>
<path d="M461.6,661.3 C461.6,660.4 462.9,658.6 464.6,657.7 C466.3,656.8 469.0,656.2 471.8,655.9 C474.6,655.6 478.6,655.3 481.4,655.9 C484.2,656.5 487.0,658.2 488.6,659.5 C490.2,660.8 491.0,662.5 491.0,663.7 C491.0,664.9 490.0,666.0 488.6,666.7 C487.2,667.4 484.2,667.3 482.6,667.9 C481.0,668.5 480.8,670.3 479.0,670.3 C477.2,670.3 473.6,668.7 471.8,667.9 C470.0,667.1 468.4,666.3 468.2,665.5 C468.0,664.7 471.2,663.7 470.6,663.3 C470.0,662.9 466.1,663.6 464.6,663.3 C463.1,663.0 461.6,662.2 461.6,661.3Z" fill="#8aacdd"/>
<path d="M337.9,576.6 C339.5,576.2 345.4,576.7 348.6,577.0 C351.8,577.3 354.8,577.5 357.0,578.4 C359.2,579.2 360.0,580.5 361.7,582.1 C363.4,583.7 365.5,585.8 367.2,587.7 C368.9,589.6 370.3,591.8 371.9,593.3 C373.5,594.8 375.8,595.9 376.6,597.0 C377.4,598.1 377.4,599.3 376.8,599.8 C376.2,600.3 374.1,600.5 372.8,600.0 C371.5,599.5 370.5,598.1 369.1,597.0 C367.7,595.9 366.4,594.4 364.5,593.3 C362.6,592.2 360.4,591.4 357.9,590.5 C355.4,589.6 352.2,588.9 349.6,587.7 C347.0,586.5 343.9,584.5 342.1,583.1 C340.3,581.7 339.5,580.4 338.8,579.3 C338.1,578.2 336.3,577.0 337.9,576.6Z" fill="#f0514d"/>
<path d="M364.0,578.4 C364.2,577.6 365.9,576.5 367.2,576.1 C368.5,575.7 370.2,575.6 371.9,576.1 C373.6,576.6 375.6,578.1 377.5,579.3 C379.4,580.5 381.7,581.7 383.1,583.1 C384.5,584.5 385.0,585.9 385.9,587.7 C386.8,589.6 388.0,592.3 388.2,594.2 C388.4,596.1 387.4,597.8 386.8,598.9 C386.2,600.0 385.3,600.9 384.5,600.8 C383.7,600.6 383.0,599.4 382.1,598.0 C381.2,596.6 380.4,594.1 379.3,592.4 C378.2,590.7 377.2,589.2 375.6,587.7 C374.1,586.2 371.6,584.3 370.0,583.1 C368.4,581.9 366.8,581.5 365.8,580.7 C364.8,579.9 363.8,579.2 364.0,578.4Z" fill="#f0514d"/>
<path d="M347.7,637.2 C347.7,635.0 348.9,633.3 350.0,630.7 C351.1,628.1 352.4,624.2 354.2,621.4 C356.0,618.6 358.2,615.9 360.7,614.0 C363.2,612.1 366.2,610.3 369.1,609.8 C372.1,609.2 375.6,610.2 378.4,610.7 C381.2,611.2 384.4,611.7 385.9,613.0 C387.4,614.3 386.5,616.9 387.3,618.6 C388.1,620.3 389.8,621.3 390.5,623.3 C391.2,625.3 391.5,628.4 391.5,630.7 C391.5,633.0 391.3,635.0 390.5,637.2 C389.7,639.4 387.7,641.6 386.8,643.8 C385.9,646.0 386.0,648.3 384.9,650.3 C383.8,652.3 382.1,654.4 380.3,655.9 C378.5,657.4 376.0,659.1 373.8,659.1 C371.6,659.1 369.4,656.6 367.2,655.9 C365.0,655.2 362.9,655.8 360.7,654.9 C358.5,654.0 356.0,652.1 354.2,650.3 C352.4,648.4 351.1,646.0 350.0,643.8 C348.9,641.6 347.7,639.4 347.7,637.2Z" fill="#f0514d"/>
<path d="M419.9,650.7 C419.9,649.5 421.2,648.1 421.5,646.5 C421.8,644.9 421.3,642.7 421.7,641.0 C422.1,639.3 422.5,637.6 424.0,636.3 C425.5,635.0 428.1,633.6 430.6,633.1 C433.1,632.6 436.4,632.4 438.9,633.1 C441.4,633.8 444.2,635.6 445.5,637.2 C446.8,638.8 447.1,641.1 446.9,642.8 C446.7,644.5 446.0,646.1 444.5,647.5 C443.0,648.9 440.2,650.0 438.0,651.2 C435.8,652.4 433.5,654.1 431.5,654.9 C429.5,655.7 427.5,656.0 425.9,655.9 C424.3,655.8 422.7,654.9 421.7,654.0 C420.7,653.1 419.9,652.0 419.9,650.7Z" fill="#f0514d"/>
<path d="M257.0,466.0 C257.8,465.3 259.0,466.8 260.0,468.0 C261.0,469.2 262.0,471.0 263.0,473.0 C264.0,475.0 265.4,478.0 266.0,480.0 C266.6,482.0 265.9,483.8 266.5,485.0 C267.1,486.2 269.6,486.5 269.5,487.0 C269.4,487.5 266.7,487.2 266.0,488.0 C265.3,488.8 266.5,491.3 265.5,492.0 C264.5,492.7 261.4,493.2 260.0,492.4 C258.6,491.6 258.3,488.3 257.0,487.0 C255.7,485.7 253.7,485.0 252.0,484.5 C250.3,484.0 248.3,484.4 247.0,484.0 C245.7,483.6 243.5,482.4 244.0,482.0 C244.5,481.6 248.3,482.2 250.0,481.5 C251.7,480.8 253.2,479.6 254.0,478.0 C254.8,476.4 254.5,474.0 255.0,472.0 C255.5,470.0 256.2,466.7 257.0,466.0Z" fill="#f0514d"/>
<path d="M247.5,503.0 C247.8,501.1 248.9,497.8 250.0,496.5 C251.1,495.2 252.8,494.9 254.0,495.0 C255.2,495.1 256.7,495.7 257.0,497.0 C257.3,498.3 255.5,501.6 256.0,503.0 C256.5,504.4 259.2,504.4 260.0,505.5 C260.8,506.6 261.7,508.3 261.0,509.5 C260.3,510.7 257.7,512.1 256.0,512.5 C254.3,512.9 252.3,512.8 251.0,512.0 C249.7,511.2 248.6,509.5 248.0,508.0 C247.4,506.5 247.2,504.9 247.5,503.0Z" fill="#f0514d"/>
<path d="M616.5,502.1 L623.1,495.5 L640.1,497.4 L640.1,507.8 L642.9,507.8 L642.0,515.3 L619.3,518.7 L617.4,507.8Z" fill="#f0514d" stroke="#f0514d" stroke-width="0.8" stroke-linejoin="round"/>
<path d="M335.0,693.0 C337.5,692.2 343.8,693.2 350.0,692.0 C356.2,690.8 365.4,688.8 372.1,686.0 C378.8,683.2 384.5,678.6 390.0,675.0 C395.5,671.4 402.2,665.9 405.0,664.5 C407.8,663.1 407.2,665.6 407.0,666.5 C406.8,667.4 405.8,668.0 403.8,669.9 C401.8,671.8 397.6,675.6 394.8,677.9 C392.0,680.2 389.5,681.9 386.8,683.9 C384.1,685.9 381.5,688.1 378.8,689.9 C376.1,691.7 373.7,693.2 370.9,694.9 C368.1,696.5 364.9,698.8 361.9,699.8 C358.9,700.8 355.7,700.6 352.9,700.8 C350.1,701.0 346.6,700.1 344.9,700.8 C343.2,701.5 343.7,704.0 342.9,704.8 C342.1,705.6 341.0,706.3 340.0,705.8 C339.0,705.3 337.8,703.3 337.0,701.8 C336.2,700.3 335.3,698.3 335.0,696.8 C334.7,695.3 332.5,693.8 335.0,693.0Z" fill="#f0514d"/>
<path d="M333.0,691.9 C333.3,690.7 334.4,687.7 336.0,686.9 C337.6,686.1 339.8,687.7 342.9,686.9 C346.0,686.1 350.9,683.7 354.9,681.9 C358.9,680.1 362.9,677.7 366.9,675.9 C370.9,674.1 375.1,672.9 378.8,670.9 C382.5,668.9 386.1,665.5 388.8,663.9 C391.5,662.2 392.1,661.7 394.8,661.0 C397.5,660.3 400.7,660.0 404.8,659.5 C408.9,659.0 414.7,658.2 419.7,658.0 C424.7,657.8 429.7,657.8 434.7,658.0 C439.7,658.2 446.3,659.0 449.6,659.5 C452.9,660.0 453.8,660.4 454.6,661.0 C455.4,661.6 456.3,662.8 454.6,663.4 C452.9,664.0 447.9,663.9 444.6,664.4 C441.3,664.9 438.0,666.3 434.7,666.4 C431.4,666.5 428.0,665.2 424.7,664.9 C421.4,664.6 417.7,664.1 414.7,664.4 C411.7,664.6 409.1,665.3 406.8,666.4 C404.5,667.5 402.8,669.5 400.8,670.9 C398.8,672.3 396.8,673.4 394.8,674.9 C392.8,676.4 391.1,678.1 388.8,679.9 C386.5,681.7 383.5,684.2 380.8,685.9 C378.1,687.6 375.9,688.6 372.9,689.9 C369.9,691.2 366.2,692.8 362.9,693.9 C359.6,695.0 355.9,696.2 352.9,696.8 C349.9,697.4 347.4,697.5 344.9,697.3 C342.4,697.1 339.8,696.4 338.0,695.8 C336.2,695.2 334.8,694.5 334.0,693.9 C333.2,693.2 332.7,693.1 333.0,691.9Z" fill="#8aacdd"/>
<path d="M364.5,614.9 C365.4,613.5 366.8,610.8 369.1,610.2 C371.4,609.6 375.6,610.7 378.4,611.2 C381.2,611.8 384.5,612.3 385.9,613.5 C387.3,614.7 387.4,617.3 386.8,618.6 C386.2,619.9 383.8,620.1 382.1,621.4 C380.4,622.6 378.6,624.4 376.6,626.1 C374.6,627.8 372.0,630.0 370.0,631.7 C368.0,633.4 366.2,635.4 364.5,636.3 C362.8,637.2 360.7,638.0 359.8,637.2 C358.9,636.4 359.0,633.9 359.3,631.7 C359.6,629.5 361.0,626.4 361.7,624.2 C362.4,622.0 363.0,620.2 363.5,618.6 C364.0,617.0 363.6,616.3 364.5,614.9Z" fill="#8aacdd"/>
<circle cx="286.1" cy="627.8" r="5.8" fill="#8aacdd" stroke="#2a477c" stroke-width="1.9"/>
<path class="bd" d="M131.0,309.0 C135.8,310.8 148.5,315.7 160.0,320.0 C171.5,324.3 186.7,329.9 200.0,335.0 C213.3,340.1 226.7,346.0 240.0,350.5 C253.3,355.0 266.7,358.8 280.0,362.0 C293.3,365.2 306.7,367.3 320.0,369.5 C333.3,371.7 346.7,373.3 360.0,375.0 C373.3,376.7 386.9,378.4 400.0,379.5 C413.1,380.6 431.3,382.4 438.5,381.9 C445.7,381.4 442.0,376.1 443.3,376.3 C444.6,376.6 444.7,381.4 446.1,383.4 C447.5,385.4 448.0,387.0 451.8,388.1 C455.6,389.2 463.5,388.3 468.7,390.0 C473.9,391.7 476.9,396.9 482.9,398.5 C488.9,400.1 501.0,399.3 504.6,399.5" stroke-linejoin="round"/>
<path class="bd" d="M676.9,442.9 C678.6,440.8 683.4,433.1 687.3,430.6 C691.2,428.1 693.6,429.1 700.5,427.8 C707.4,426.6 723.6,424.7 728.8,423.1 C734.0,421.5 729.8,419.8 731.7,418.4 C733.6,417.0 738.5,417.0 740.2,414.6 C741.9,412.2 741.9,407.8 742.0,404.2 C742.1,400.6 740.8,396.8 741.1,392.9 C741.4,389.0 741.2,382.8 743.9,380.6 C746.6,378.5 755.0,380.1 757.2,380.0" stroke-linejoin="round"/>
<path class="bd" d="M101.5,591.2 L133.4,596.5 L185.0,630.2 L224.0,635.5 L226.2,629.2 L238.9,631.2 L253.8,633.3 L260.2,641.3 L272.0,651.0 L274.6,664.8 L281.6,674.4 L291.2,681.9 L296.5,681.9 L301.8,673.4 L306.1,670.2 L321.0,671.8 L327.5,675.5 L334.9,685.1 L342.4,701.1 L350.9,714.2" stroke-linejoin="round"/>
<path class="bd" d="M599.0,470.3 C598.7,471.9 598.4,476.9 597.1,479.7 C595.9,482.5 592.4,486.0 591.5,487.3" stroke-linejoin="round"/>
<path class="bd" d="M643.0,470.0 L646.0,466.0" stroke-linejoin="round"/>
<path d="M421.5,645.6 L428.5,645.9" stroke="#f8d2b0" stroke-width="1.3" stroke-linecap="round"/>
<path d="M329.9,384.8 L330.9,381 L341.3,380 L344.1,375.3 L346.9,380 L353.5,377.2 L348.8,386.6 L345,396.1 L341.3,392.3 L335.6,387.6 Z" fill="none" stroke="#27407a" stroke-width="1.7" stroke-linejoin="round"/>
<rect x="641.2" y="226.7" width="22.7" height="11.3" fill="#6f9fdc"/>
<rect x="641.2" y="248" width="22.7" height="11.8" fill="#ee4b48"/>
<text class="ct" x="669.9" y="236.7" font-size="13.5px" textLength="27.6" lengthAdjust="spacingAndGlyphs">OIL</text>
<text class="ct" x="670.5" y="258.2" font-size="13.5px" textLength="62.3" lengthAdjust="spacingAndGlyphs">LIQUID-</text>
<text class="ct" x="670.5" y="271.1" font-size="13.5px" textLength="74.5" lengthAdjust="spacingAndGlyphs">RICH GAS</text>
<text class="ct" x="465.3" y="345.7" font-size="12.8px" textLength="61.6" lengthAdjust="spacingAndGlyphs">CANADA</text>
<text class="ct" x="426.3" y="481.6" font-size="13px" textLength="57.2" lengthAdjust="spacingAndGlyphs">UNITED</text>
<text class="ct" x="426.8" y="494.5" font-size="13px" textLength="56.1" lengthAdjust="spacingAndGlyphs">STATES</text>
<text class="ct" x="197.7" y="681" font-size="12.8px" style="font-weight:normal;stroke-width:.6" textLength="60.2" lengthAdjust="spacingAndGlyphs">MEXICO</text>
<path d="M345,395.5 L345,400.8 L363.9,400.8" fill="none" stroke="#2c4375" stroke-width="1.5"/>
<path class="ld" d="M191.4,463.5 L259.4,463.5 L259.4,474.8"/>
<path class="ld" d="M214.1,492.4 L226.4,492.4"/>
<path class="ld" d="M209.4,516.3 L252.8,516.3 L252.8,506.0"/>
<path class="ld" d="M79.5,500.3 L79.5,517.3"/>
<path class="ld" d="M320.1,396.5 L327.1,396.5"/>
<path class="ld" d="M300.7,453.7 L315.8,453.7 L315.8,485.8 L304.4,485.8"/>
<path class="ld" d="M315.8,469.7 L325.2,469.7"/>
<path class="ld" d="M335.4,544.4 L349.3,544.4 L349.3,572.7"/>
<path class="ld" d="M397.1,544.4 L410.3,544.4"/>
<path class="ld" d="M335.4,588.4 L349.3,588.4 L349.3,583.1"/>
<path class="ld" d="M374.4,578.4 L410.3,578.4"/>
<path class="ld" d="M410.3,605.4 L374.8,605.4 L374.8,617.1"/>
<path class="ld" d="M410.3,624.6 L387.7,624.6"/>
<path class="ld" d="M266.3,613.7 L289.5,613.7 L289.5,619.9"/>
<path class="ld" d="M284.2,633.1 L284.2,647.3"/>
<path class="ld" d="M311.2,623.7 L311.2,617.4 L326.7,617.4 L326.7,623.7"/>
<path class="ld" d="M318.7,613.3 L318.7,617.4"/>
<path class="ld" d="M436.5,640.2 L488.5,640.2"/>
<path class="ld" d="M478.3,661.0 L478.3,654.3 L490.8,654.3"/>
<path class="ld" d="M427.0,662.2 L427.0,672.3"/>
<path class="ld" d="M369.8,680.9 L396.9,680.9 L396.9,693.1 L369.8,693.1"/>
<path class="ld" d="M396.9,693.1 L407.1,693.1"/>
<text class="lb" x="251.5" y="226.2" textLength="95.5" lengthAdjust="spacingAndGlyphs">Albertan Bakken</text>
<text class="lb" x="172.8" y="302.3" textLength="36.5" lengthAdjust="spacingAndGlyphs">Viking</text>
<text class="lb" x="297.7" y="326.5" textLength="49" lengthAdjust="spacingAndGlyphs">Cardium</text>
<text class="lb" x="275.2" y="399.9" textLength="41.5" lengthAdjust="spacingAndGlyphs">Bakken</text>
<text class="lb" x="367.7" y="405.1" textLength="73.1" lengthAdjust="spacingAndGlyphs">Three Forks/</text>
<text class="lb" x="367.7" y="419.3" textLength="37.2" lengthAdjust="spacingAndGlyphs">Sanish</text>
<text class="lb" x="328.6" y="472.6" textLength="50.4" lengthAdjust="spacingAndGlyphs">Niobrara</text>
<text class="lb" x="143.9" y="468.2" textLength="42.8" lengthAdjust="spacingAndGlyphs">Almond</text>
<text class="lb" x="71" y="494.6" textLength="54.7" lengthAdjust="spacingAndGlyphs">Monterey</text>
<text class="lb" x="143.9" y="494.6" textLength="66.8" lengthAdjust="spacingAndGlyphs">Green River</text>
<text class="lb" x="143.9" y="519.2" textLength="62.6" lengthAdjust="spacingAndGlyphs">Mesaverde</text>
<text class="lb" x="143.9" y="533.9" textLength="50.8" lengthAdjust="spacingAndGlyphs">Piceance</text>
<text class="lb" x="273.4" y="546.8" textLength="56.7" lengthAdjust="spacingAndGlyphs">Cleveland</text>
<text class="lb" x="415" y="546.8" textLength="77.5" lengthAdjust="spacingAndGlyphs">Mississippian</text>
<text class="lb" x="252.3" y="590.3" textLength="77.4" lengthAdjust="spacingAndGlyphs">Granite Wash</text>
<text class="lb" x="415" y="582.3" textLength="115.5" lengthAdjust="spacingAndGlyphs">Anadarko Woodford</text>
<text class="lb" x="291.9" y="609.9" textLength="57.4" lengthAdjust="spacingAndGlyphs">Wolfberry</text>
<text class="lb" x="415" y="609.3" textLength="86.4" lengthAdjust="spacingAndGlyphs">Barnett Combo</text>
<text class="lb" x="415" y="628.2" textLength="42.9" lengthAdjust="spacingAndGlyphs">Barnett</text>
<text class="lb" x="193.3" y="615.9" textLength="69.3" lengthAdjust="spacingAndGlyphs">Bone Spring</text>
<text class="lb" x="280.5" y="661.5" textLength="38.5" lengthAdjust="spacingAndGlyphs">Avalon</text>
<text class="lb" x="493.7" y="643" textLength="64.9" lengthAdjust="spacingAndGlyphs">Haynesville</text>
<text class="lb" x="496.4" y="659.9" textLength="62.2" lengthAdjust="spacingAndGlyphs">Tuscaloosa</text>
<text class="lb" x="410" y="681.4" textLength="72.2" lengthAdjust="spacingAndGlyphs">Austin Chalk</text>
<text class="lb" x="410" y="696.8" textLength="60.4" lengthAdjust="spacingAndGlyphs">Eagle Ford</text>
<text class="lb" x="643.9" y="488.2" textLength="55.7" lengthAdjust="spacingAndGlyphs">Marcellus</text>
<text class="lb" x="643.9" y="502.8" textLength="60" lengthAdjust="spacingAndGlyphs">Southwest</text>
<text class="lb" x="587.2" y="534.2" textLength="82.1" lengthAdjust="spacingAndGlyphs">Utica Wet Gas</text>
</g>
<text y="745.9" font-size="17.4px" fill="#595c65" stroke="#595c65" stroke-width=".45"><tspan x="16.6" textLength="61.5" lengthAdjust="spacingAndGlyphs">Sources:</tspan> <tspan x="83.1" textLength="53.2" lengthAdjust="spacingAndGlyphs">Morgan</tspan> <tspan x="142.3" textLength="53.8" lengthAdjust="spacingAndGlyphs">Stanley,</tspan> <tspan x="202.8" textLength="46.5" lengthAdjust="spacingAndGlyphs">Rystad</tspan> <tspan x="255.3" textLength="49.9" lengthAdjust="spacingAndGlyphs">Energy,</tspan> <tspan x="310.8" textLength="19.0" lengthAdjust="spacingAndGlyphs">US</tspan> <tspan x="335.1" textLength="47.2" lengthAdjust="spacingAndGlyphs">Energy</tspan> <tspan x="388.3" textLength="77.8" lengthAdjust="spacingAndGlyphs">Information</tspan> <tspan x="472.6" textLength="104.4" lengthAdjust="spacingAndGlyphs">Administration,</tspan> <tspan x="583.6" textLength="87.4" lengthAdjust="spacingAndGlyphs">International</tspan> <tspan x="676.7" textLength="46.5" lengthAdjust="spacingAndGlyphs">Energy</tspan> <tspan x="728.6" textLength="53.8" lengthAdjust="spacingAndGlyphs">Agency,</tspan> <tspan x="789" textLength="84.8" lengthAdjust="spacingAndGlyphs">AlixPartners</tspan> <tspan x="880.5" textLength="54.9" lengthAdjust="spacingAndGlyphs">analysis</tspan> </text>
<rect x="1140.3" y="275.70" width="159.8" height="259.84" fill="#6d9a32"/>
<rect x="1140.3" y="535.54" width="159.8" height="97.44" fill="#e8b613"/>
<rect x="1140.3" y="632.98" width="159.8" height="32.48" fill="#ee2225"/>
<rect x="1320.3" y="275.70" width="153.7" height="32.48" fill="#6d9a32"/>
<rect x="1320.3" y="308.18" width="153.7" height="32.48" fill="#ee2225"/>
<rect x="1320.3" y="340.66" width="153.7" height="32.48" fill="#6d9a32"/>
<rect x="1320.3" y="373.14" width="153.7" height="129.92" fill="#ee2225"/>
<rect x="1320.3" y="503.06" width="153.7" height="32.48" fill="#e8b613"/>
<rect x="1320.3" y="535.54" width="153.7" height="32.48" fill="#ee2225"/>
<rect x="1320.3" y="568.02" width="153.7" height="32.48" fill="#e8b613"/>
<rect x="1320.3" y="600.50" width="153.7" height="64.96" fill="#ee2225"/>
<text class="rl" x="911.3" y="304.1" textLength="60.2" lengthAdjust="spacingAndGlyphs">Niobrara</text>
<text class="v" x="1192.2" y="298.6" textLength="46.9" lengthAdjust="spacingAndGlyphs">$ 32.50</text>
<text class="v" x="1372.6" y="298.6" textLength="46.9" lengthAdjust="spacingAndGlyphs">$ 48.45</text>
<text class="rl" x="911.3" y="336.6" textLength="67.5" lengthAdjust="spacingAndGlyphs">Anadarko</text>
<text class="v" x="1192.2" y="331.1" textLength="46.9" lengthAdjust="spacingAndGlyphs">$ 32.91</text>
<text class="v" x="1372.6" y="331.1" textLength="46.9" lengthAdjust="spacingAndGlyphs">$ 69.19</text>
<text class="rl" x="911.3" y="369.1" textLength="70.5" lengthAdjust="spacingAndGlyphs">Marcellus</text>
<text class="v" x="1192.2" y="363.6" textLength="46.9" lengthAdjust="spacingAndGlyphs">$ 33.18</text>
<text class="v" x="1372.6" y="363.6" textLength="46.9" lengthAdjust="spacingAndGlyphs">$ 41.80</text>
<text class="rl" x="911.3" y="401.5" textLength="73.5" lengthAdjust="spacingAndGlyphs">Eagle Ford</text>
<text class="v" x="1192.2" y="396.0" textLength="46.9" lengthAdjust="spacingAndGlyphs">$ 37.12</text>
<text class="v" x="1372.6" y="396.0" textLength="46.9" lengthAdjust="spacingAndGlyphs">$ 70.24</text>
<text class="rl" x="911.3" y="434.0" textLength="51.5" lengthAdjust="spacingAndGlyphs">Bakken</text>
<text class="v" x="1192.2" y="428.5" textLength="46.9" lengthAdjust="spacingAndGlyphs">$ 37.12</text>
<text class="v" x="1372.6" y="428.5" textLength="46.9" lengthAdjust="spacingAndGlyphs">$ 65.55</text>
<text class="rl" x="911.3" y="466.5" textLength="58" lengthAdjust="spacingAndGlyphs">Permian</text>
<text class="v" x="1192.2" y="461.0" textLength="46.9" lengthAdjust="spacingAndGlyphs">$ 37.82</text>
<text class="v" x="1372.6" y="461.0" textLength="46.9" lengthAdjust="spacingAndGlyphs">$ 75.97</text>
<text class="rl" x="911.3" y="499.0" textLength="98.5" lengthAdjust="spacingAndGlyphs">Granite Wash</text>
<text class="v" x="1192.2" y="493.5" textLength="46.9" lengthAdjust="spacingAndGlyphs">$ 38.52</text>
<text class="v" x="1372.6" y="493.5" textLength="46.9" lengthAdjust="spacingAndGlyphs">$ 81.70</text>
<text class="rl" x="911.3" y="531.5" textLength="96" lengthAdjust="spacingAndGlyphs">Mississippian</text>
<text class="v" x="1192.2" y="526.0" textLength="46.9" lengthAdjust="spacingAndGlyphs">$ 47.23</text>
<text class="v" x="1372.6" y="526.0" textLength="46.9" lengthAdjust="spacingAndGlyphs">$ 61.75</text>
<text class="rl" x="911.3" y="563.9" textLength="36" lengthAdjust="spacingAndGlyphs">Utica</text>
<text class="v" x="1192.2" y="558.4" textLength="46.9" lengthAdjust="spacingAndGlyphs">$ 50.56</text>
<text class="v" x="1372.6" y="558.4" textLength="46.9" lengthAdjust="spacingAndGlyphs">$ 68.22</text>
<text class="rl" x="911.3" y="596.4" textLength="52.5" lengthAdjust="spacingAndGlyphs">Barnett</text>
<text class="v" x="1192.2" y="590.9" textLength="46.9" lengthAdjust="spacingAndGlyphs">$ 52.11</text>
<text class="v" x="1372.6" y="590.9" textLength="46.9" lengthAdjust="spacingAndGlyphs">$ 62.66</text>
<text class="rl" x="911.3" y="628.9" textLength="36.5" lengthAdjust="spacingAndGlyphs">Uinta</text>
<text class="v" x="1192.2" y="623.4" textLength="46.9" lengthAdjust="spacingAndGlyphs">$ 56.88</text>
<text class="v" x="1372.6" y="623.4" textLength="46.9" lengthAdjust="spacingAndGlyphs">$ 68.40</text>
<text class="rl" x="911.3" y="661.4" textLength="134.5" lengthAdjust="spacingAndGlyphs">Tuscaloosa Marine</text>
<text class="v" x="1192.2" y="655.9" textLength="46.9" lengthAdjust="spacingAndGlyphs">$ 65.57</text>
<text class="v" x="1372.6" y="655.9" textLength="46.9" lengthAdjust="spacingAndGlyphs">$ 78.85</text>
<text x="1190" y="242" font-size="13.8px" font-weight="bold" fill="#575a66" stroke="#575a66" stroke-width=".3" textLength="58.5" lengthAdjust="spacingAndGlyphs">Basin/Play</text>
<text x="1208.8" y="264.9" font-size="15.2px" font-weight="bold" fill="#575a66" stroke="#575a66" stroke-width=".35" textLength="27.4" lengthAdjust="spacingAndGlyphs">Low</text>
<clipPath id="hc"><rect x="1300" y="225" width="174.2" height="25"/></clipPath>
<g clip-path="url(#hc)"><text x="1318.9" y="242" font-size="13.8px" fill="#575a66"><tspan font-weight="bold" stroke="#575a66" stroke-width=".3" textLength="100.7" lengthAdjust="spacingAndGlyphs">Break-even Range</tspan><tspan x="1423.7" textLength="52.5" lengthAdjust="spacingAndGlyphs">(USD/bbl)</tspan></text></g>
<text x="1387.4" y="264.9" font-size="15.2px" font-weight="bold" fill="#575a66" stroke="#575a66" stroke-width=".35" textLength="30.4" lengthAdjust="spacingAndGlyphs">High</text>
<rect x="914.4" y="700.2" width="10.4" height="9" fill="#6d9a32"/>
<text x="929" y="711" font-size="16.8px" fill="#595c65" stroke="#595c65" stroke-width=".45" textLength="132.7" lengthAdjust="spacingAndGlyphs">$30.00 to $49.99/bbl</text>
<rect x="1140.6" y="700.2" width="10.4" height="9" fill="#e8b613"/>
<text x="1155.9" y="711" font-size="16.8px" fill="#595c65" stroke="#595c65" stroke-width=".45" textLength="132.8" lengthAdjust="spacingAndGlyphs">$50.00 to $64.99/bbl</text>
<rect x="1366.7" y="700.2" width="10.4" height="9" fill="#ee2225"/>
<text x="1382.1" y="711" font-size="16.8px" fill="#595c65" stroke="#595c65" stroke-width=".45" textLength="80.9" lengthAdjust="spacingAndGlyphs">$65.00+ /bbl</text>
</svg></body></html>
